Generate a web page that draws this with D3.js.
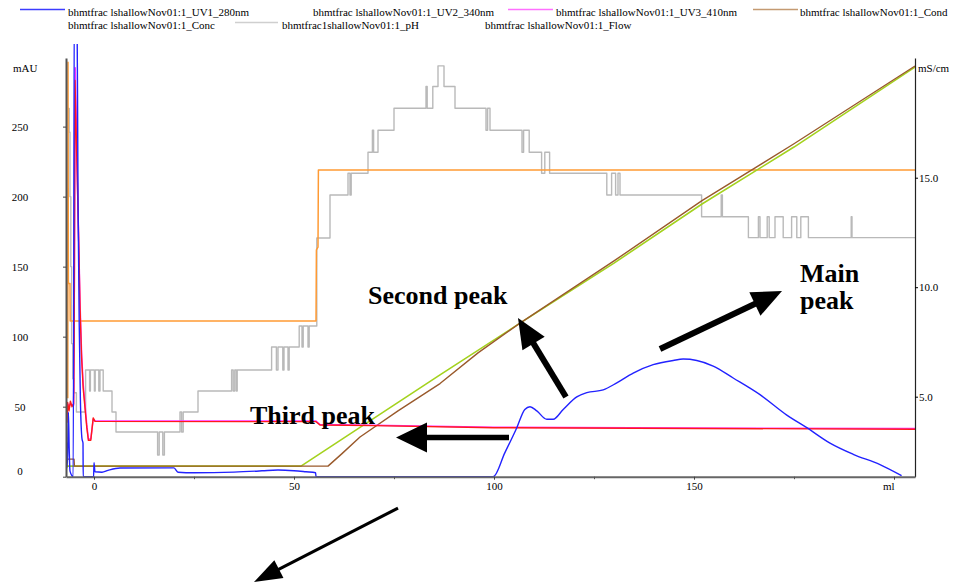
<!DOCTYPE html>
<html>
<head>
<meta charset="utf-8">
<script src="https://cdn.jsdelivr.net/npm/d3@7"></script>
<style>
  html, body { margin: 0; padding: 0; background: #fff; }
  svg { display: block; font-family: "Liberation Serif", "Times New Roman", serif; }
</style>
</head>
<body>
<svg id="chart" width="953" height="584"></svg>
<script>
// ---- run traces: [volume ml, value] ----
// UV 280 nm absorbance (mAU)
const uv1 = [
  [-7.0,0],[-6.9,28],[-6.8,6],[-6.6,15],[-6.4,46],[-6.2,20],[-6.0,4],[-5.2,0],
  [-4.9,360],[-4.3,360],[-4.0,200],[-3.7,110],[-3.4,55],[-3.0,27],[-2.75,24],[-2.7,0],
  [-0.1,0],[0,10],[0.25,3.5],[2,3.2],[3.5,4.5],[6.5,6.2],[20,6.3],[21,3.2],[25,2.8],
  [35,3.3],[42,4.2],[46,4.8],[50,4.3],[53,3.5],[55.4,2.8],[55.5,0],[99.8,0],
  [102.7,17],[105.7,35],[107.7,48],[109,50],[110.7,47],[113.2,41],[114.8,41],[117.3,48],
  [120.7,57],[123.2,60],[127.3,62],[130.7,67],[134.8,74],[139.8,80],[144.8,83],[147.3,84],
  [150.7,83],[154.8,79],[159.8,70.5],[166.5,58.6],[173.2,44],[178.2,35],[184,24],
  [189.8,16],[196.5,8.6],[201.9,0.7]
];
// UV 340 nm absorbance (mAU)
const uv2 = [
  [-7.0,38],[-6.75,39],[-6.6,53],[-6.25,47],[-5.9,54],[-5.5,50],[-5.1,52],[-4.95,100],
  [-4.75,283],[-3.9,178],[-3.5,121],[-3.1,85],[-2.7,63],[-1.8,35],[-1.4,26],[-0.8,26],
  [-0.2,42],[0.25,39.5],[55.5,39.3],[56.5,36.9],[70,36.5],[100,35],[205.25,33.9]
];
// UV 410 nm absorbance (mAU)
const uv3 = [
  [-7.0,39],[-6.6,52],[-6.2,50],[-5.9,52],[-5.1,51],[-4.95,110],[-4.7,292],[-3.95,185],
  [-3.5,125],[-3.1,88],[-2.7,66],[-1.8,37],[-1.4,27],[-0.8,27],[-0.2,41],[0.25,40],
  [55.5,39.8],[56.5,37.2],[70,36.8],[100,35.3],[150,34.7],[205.25,34.4]
];
// Conductivity (mS/cm)
const cond = [
  [-7,2.15],[-5,2.15],[-4.9,1.83],[58.5,1.83],[62,2.4],[66.5,3.16],[76,4.35],[86.5,5.6],
  [96,7.0],[106.5,8.36],[130,11.2],[152,13.95],[175,16.55],[205.25,20.1]
];
// Gradient concentration, drawn on the conductivity axis
const conc = [
  [-7,1.83],[51.75,1.83],[66.5,3.6],[86.5,6.0],[106.5,8.36],[130,11.1],[152,13.8],
  [175,16.4],[205.25,20.05]
];
// Flow trace, drawn on the absorbance axis
const flow = [
  [-6.55,56],[-6.5,296],[-6.4,138],[-6.0,138],[-5.95,111.2],[55.5,111.2],[55.6,162],
  [56.0,164],[56.1,219],[205.25,219]
];
// pH trace (step changes), drawn on the absorbance axis
const ph = [
  [-6.45,263],[-6.2,246],[-6.0,200],[-5.8,150],[-5.6,95],[-5.3,70],[-5.0,60],[-4.4,46.2],
  [-2.1,76.2],[-1.1,61.2],[-0.9,76.2],[0.1,61.2],[0.3,76.2],[1.2,61.2],[1.5,76.2],
  [2.3,61.2],[4.5,46.2],[5.5,31.9],[15.9,15.5],[16.3,31.9],[17.2,15.5],[17.6,31.9],
  [21.5,46.2],[21.9,31.9],[22.3,46.2],[26,61.2],[34.4,76.2],[34.8,61.2],[35.2,76.2],
  [35.6,61.2],[35.8,76.2],[44.4,92.6],[45.6,76.2],[46,92.6],[47.2,76.2],[47.5,92.6],
  [48.5,76.2],[48.8,92.6],[51.3,107.6],[52.0,92.6],[52.3,107.6],[53.5,92.6],[53.8,107.6],
  [55.7,170.5],[59,201.2],[63.5,216.7],[64,201.2],[64.3,216.7],[68.5,231.7],[69.6,247.4],
  [69.9,231.7],[71,247.4],[75,263.1],[83,278.6],[83.3,263.1],[84.7,278.6],[86,293.4],
  [87.5,278.6],[90.25,263.1],[98,247.4],[98.4,263.1],[99,247.4],[107,231.7],[107.4,247.4],
  [108.8,231.7],[111.9,216.7],[112.7,231.7],[113.9,216.7],[128.2,201.2],[129.4,216.7],
  [130.4,201.2],[131,216.7],[131.5,201.2],[151.9,185.6],[156.8,201.2],[157.1,185.6],
  [163.6,170.7],[166.1,185.6],[166.5,170.7],[168.3,185.6],[168.8,170.7],[170.25,185.6],
  [172.3,170.7],[174.4,185.6],[175.7,170.7],[176.7,185.6],[178.6,170.7],[189.3,185.6],
  [189.5,170.7],[205.25,170.7]
];

// ---- axis ticks ----
const absTicks = [0, 50, 100, 150, 200, 250];
const condTicks = [5, 10, 15];
const volTicks = [0, 50, 100, 150, 200];
const volMinorTicks = [25, 75, 125, 175];

// ---- legend entries ----
const legendNames = [
  "bhmtfrac lshallowNov01:1_UV1_280nm", "bhmtfrac lshallowNov01:1_UV2_340nm",
  "bhmtfrac lshallowNov01:1_UV3_410nm", "bhmtfrac lshallowNov01:1_Cond",
  "bhmtfrac lshallowNov01:1_Conc", "bhmtfrac1shallowNov01:1_pH",
  "bhmtfrac lshallowNov01:1_Flow"
];

// ---- annotations: [volume, absorbance] ----
const peakLabels = [
  { text: "Main", at: [176.5, 139.1] },
  { text: "peak", at: [176.5, 119.8] },
  { text: "Second peak", at: [68.5, 123.4] },
  { text: "Third peak", at: [39, 37.6] }
];
const peakArrows = [
  { from: [141.5, 91.2], to: [172, 132.6] },
  { from: [118, 56.9], to: [106, 113.4] },
  { from: [103.75, 28], to: [75.5, 28] },
  { from: [76, -22.4], to: [40, -75.2] }
];

// ---------------------------------------------------------------
const svg = d3.select("#chart");
const plot = { left: 66, right: 915, top: 58, bottom: 476.7 };

const x = d3.scaleLinear().domain([-7, 205.25]).range([plot.left, plot.right]);
const yAbs = d3.scaleLinear().domain([0, 299]).range([plot.bottom, plot.top]);
const yCond = d3.scaleLinear().domain([1.347, 20.466]).range([plot.bottom, plot.top]);

svg.append("defs").append("clipPath").attr("id", "plotClip")
  .append("rect")
  .attr("x", plot.left).attr("y", 44)
  .attr("width", plot.right - plot.left).attr("height", plot.bottom - 44 + 1);

// legend
const legendLayout = [
  { x: 68, y: 16, swatch: [20, 65], color: "#3c3cff" },
  { x: 313, y: 16, swatch: null },
  { x: 556, y: 16, swatch: [508, 553], color: "#ff70ff" },
  { x: 800, y: 16, swatch: [753, 798], color: "#c49a72" },
  { x: 68, y: 29, swatch: null },
  { x: 282, y: 29, swatch: [235, 278], color: "#cfcfcf" },
  { x: 485, y: 29, swatch: null }
];
const legend = svg.append("g").attr("class", "legend");
legendNames.forEach((name, i) => {
  const l = legendLayout[i];
  if (l.swatch) {
    legend.append("line")
      .attr("x1", l.swatch[0]).attr("x2", l.swatch[1])
      .attr("y1", l.y - 6.5).attr("y2", l.y - 6.5)
      .attr("stroke", l.color).attr("stroke-width", 1.5);
  }
  legend.append("text").attr("x", l.x).attr("y", l.y)
    .attr("font-size", 11).attr("fill", "#000").text(name);
});

// traces
const lineAbs = d3.line().x(d => x(d[0])).y(d => yAbs(d[1]));
const smoothAbs = d3.line().x(d => x(d[0])).y(d => yAbs(d[1])).curve(d3.curveMonotoneX);
const lineCond = d3.line().x(d => x(d[0])).y(d => yCond(d[1]));
const stepAbs = d3.line().x(d => x(d[0])).y(d => yAbs(d[1])).curve(d3.curveStepAfter);

const traces = svg.append("g").attr("clip-path", "url(#plotClip)")
  .attr("fill", "none").attr("stroke-linejoin", "round");

traces.append("path").attr("d", stepAbs(ph)).attr("stroke", "#b9b9b9").attr("stroke-width", 1.4);
traces.append("path").attr("d", lineAbs(flow)).attr("stroke", "#ff9a33").attr("stroke-width", 1.5);
traces.append("path").attr("d", lineCond(conc)).attr("stroke", "#a4d21e").attr("stroke-width", 1.6);
traces.append("path").attr("d", lineCond(cond)).attr("stroke", "#9a5a2c").attr("stroke-width", 1.4);
traces.append("path").attr("d", lineAbs(uv3)).attr("stroke", "#ff30ff").attr("stroke-width", 1.5);
traces.append("path").attr("d", lineAbs(uv2)).attr("stroke", "#ff1a1a").attr("stroke-width", 1.4);
traces.append("path").attr("d", smoothAbs(uv1)).attr("stroke", "#2222ff").attr("stroke-width", 1.4);

// axes
const axisFont = g => g.selectAll("text").attr("font-size", 11).attr("fill", "#000")
  .attr("font-family", '"Liberation Serif", "Times New Roman", serif');

const leftAxis = svg.append("g").attr("transform", `translate(${plot.left},0)`)
  .call(d3.axisLeft(yAbs).tickValues(absTicks).tickSize(3).tickSizeOuter(0));
leftAxis.select(".domain").attr("stroke", "#555").attr("stroke-width", 2);
leftAxis.selectAll(".tick line").attr("stroke", "#444");
leftAxis.call(axisFont);
leftAxis.selectAll("text")
  .attr("x", 20 - plot.left).attr("text-anchor", "middle")
  .attr("dy", d => d === 0 ? "-0.22em" : "0.32em");

const rightAxis = svg.append("g").attr("transform", `translate(${plot.right},0)`)
  .call(d3.axisRight(yCond).tickValues(condTicks).tickFormat(d3.format(".1f"))
    .tickSize(3).tickSizeOuter(0).tickPadding(1));
rightAxis.select(".domain").attr("stroke", "#222").attr("stroke-width", 1.2);
rightAxis.call(axisFont);

const bottomAxis = svg.append("g").attr("transform", `translate(0,${plot.bottom})`)
  .call(d3.axisBottom(x).tickValues(volTicks).tickSize(3).tickSizeOuter(0)
    .tickFormat(d => d === 200 ? "ml" : d));
bottomAxis.select(".domain").attr("stroke", "#666").attr("stroke-width", 2);
bottomAxis.selectAll(".tick line").attr("stroke", "#444");
bottomAxis.call(axisFont);
bottomAxis.selectAll("text").filter(d => d === 200).attr("text-anchor", "end");

const minorAxis = svg.append("g").attr("transform", `translate(0,${plot.bottom})`)
  .call(d3.axisBottom(x).tickValues(volMinorTicks).tickSize(2.5).tickFormat(""));
minorAxis.select(".domain").remove();
minorAxis.selectAll(".tick line").attr("stroke", "#555");

// axis unit labels
svg.append("text").attr("x", 13).attr("y", 72).attr("font-size", 11).text("mAU");
svg.append("text").attr("x", plot.right + 3).attr("y", 72).attr("font-size", 11).text("mS/cm");

// peak annotations
const notes = svg.append("g");
peakLabels.forEach(p => {
  notes.append("text")
    .attr("x", x(p.at[0])).attr("y", yAbs(p.at[1]))
    .attr("font-size", 26).attr("font-weight", "bold")
    .attr("fill", "#000").text(p.text);
});

const arrowStyle = [
  { w: 6, len: 30, half: 13 },
  { w: 6, len: 30, half: 13 },
  { w: 5.5, len: 31, half: 15 },
  { w: 3, len: 28, half: 10 }
];
peakArrows.forEach((a, i) => {
  const s = arrowStyle[i];
  const x1 = x(a.from[0]), y1 = yAbs(a.from[1]);
  const x2 = x(a.to[0]), y2 = yAbs(a.to[1]);
  const dx = x2 - x1, dy = y2 - y1, L = Math.hypot(dx, dy);
  const ux = dx / L, uy = dy / L, nx = -uy, ny = ux;
  const bx = x2 - ux * s.len, by = y2 - uy * s.len;
  notes.append("line")
    .attr("x1", x1).attr("y1", y1).attr("x2", bx + ux * 2).attr("y2", by + uy * 2)
    .attr("stroke", "#000").attr("stroke-width", s.w);
  notes.append("path")
    .attr("d", `M${x2},${y2}L${bx + nx * s.half},${by + ny * s.half}L${bx - nx * s.half},${by - ny * s.half}Z`)
    .attr("fill", "#000");
});
</script>
</body>
</html>
